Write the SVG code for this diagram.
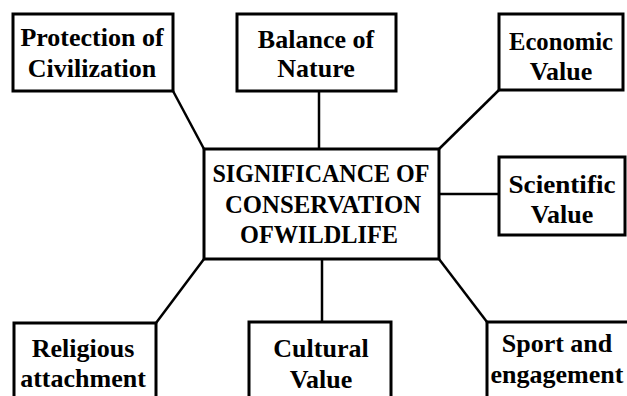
<svg xmlns="http://www.w3.org/2000/svg" width="627" height="396" viewBox="0 0 627 396">
<style>
.box{fill:#fff;stroke:#000;stroke-width:3}
.ln{stroke:#000;stroke-width:2.5;fill:none}
.lbl{font-family:'Liberation Serif','Times New Roman',serif;font-weight:bold;font-size:26px;text-anchor:middle;fill:#000}
</style>
<rect width="627" height="396" fill="#fff"/>
<g id="connectors">
<line class="ln" x1="173" y1="91" x2="204" y2="149"/>
<line class="ln" x1="319" y1="91" x2="319" y2="149"/>
<line class="ln" x1="499" y1="90" x2="439" y2="149"/>
<line class="ln" x1="439" y1="194" x2="499" y2="194"/>
<line class="ln" x1="204" y1="259" x2="156" y2="323"/>
<line class="ln" x1="322" y1="259" x2="322" y2="322"/>
<line class="ln" x1="439" y1="259" x2="487" y2="322"/>
</g>
<g id="protection">
<rect class="box" x="13" y="14" width="160" height="77"/>
<text class="lbl" x="92" y="46">Protection of</text>
<text class="lbl" x="92" y="77">Civilization</text>
</g>
<g id="balance">
<rect class="box" x="237" y="14" width="159" height="77"/>
<text class="lbl" x="316" y="48">Balance of</text>
<text class="lbl" x="316" y="77">Nature</text>
</g>
<g id="economic">
<rect class="box" x="499" y="14" width="124" height="76"/>
<text class="lbl" x="561" y="50" textLength="104" lengthAdjust="spacingAndGlyphs">Economic</text>
<text class="lbl" x="561" y="80">Value</text>
</g>
<g id="center">
<rect class="box" x="204" y="149" width="235" height="110"/>
<text class="lbl" x="321" y="182" textLength="217" lengthAdjust="spacingAndGlyphs">SIGNIFICANCE OF</text>
<text class="lbl" x="323" y="213" textLength="196" lengthAdjust="spacingAndGlyphs">CONSERVATION</text>
<text class="lbl" x="319" y="243" textLength="158" lengthAdjust="spacingAndGlyphs">OFWILDLIFE</text>
</g>
<g id="scientific">
<rect class="box" x="499" y="157" width="126" height="78"/>
<text class="lbl" x="562" y="193" textLength="107" lengthAdjust="spacingAndGlyphs">Scientific</text>
<text class="lbl" x="562" y="223">Value</text>
</g>
<g id="religious">
<rect class="box" x="14" y="323" width="142" height="80"/>
<text class="lbl" x="83" y="357">Religious</text>
<text class="lbl" x="83" y="387">attachment</text>
</g>
<g id="cultural">
<rect class="box" x="249" y="322" width="142" height="80"/>
<text class="lbl" x="321" y="357">Cultural</text>
<text class="lbl" x="321" y="388">Value</text>
</g>
<g id="sport">
<rect class="box" x="487" y="322" width="145" height="80"/>
<text class="lbl" x="557" y="352">Sport and</text>
<text class="lbl" x="557" y="383">engagement</text>
</g>
</svg>
